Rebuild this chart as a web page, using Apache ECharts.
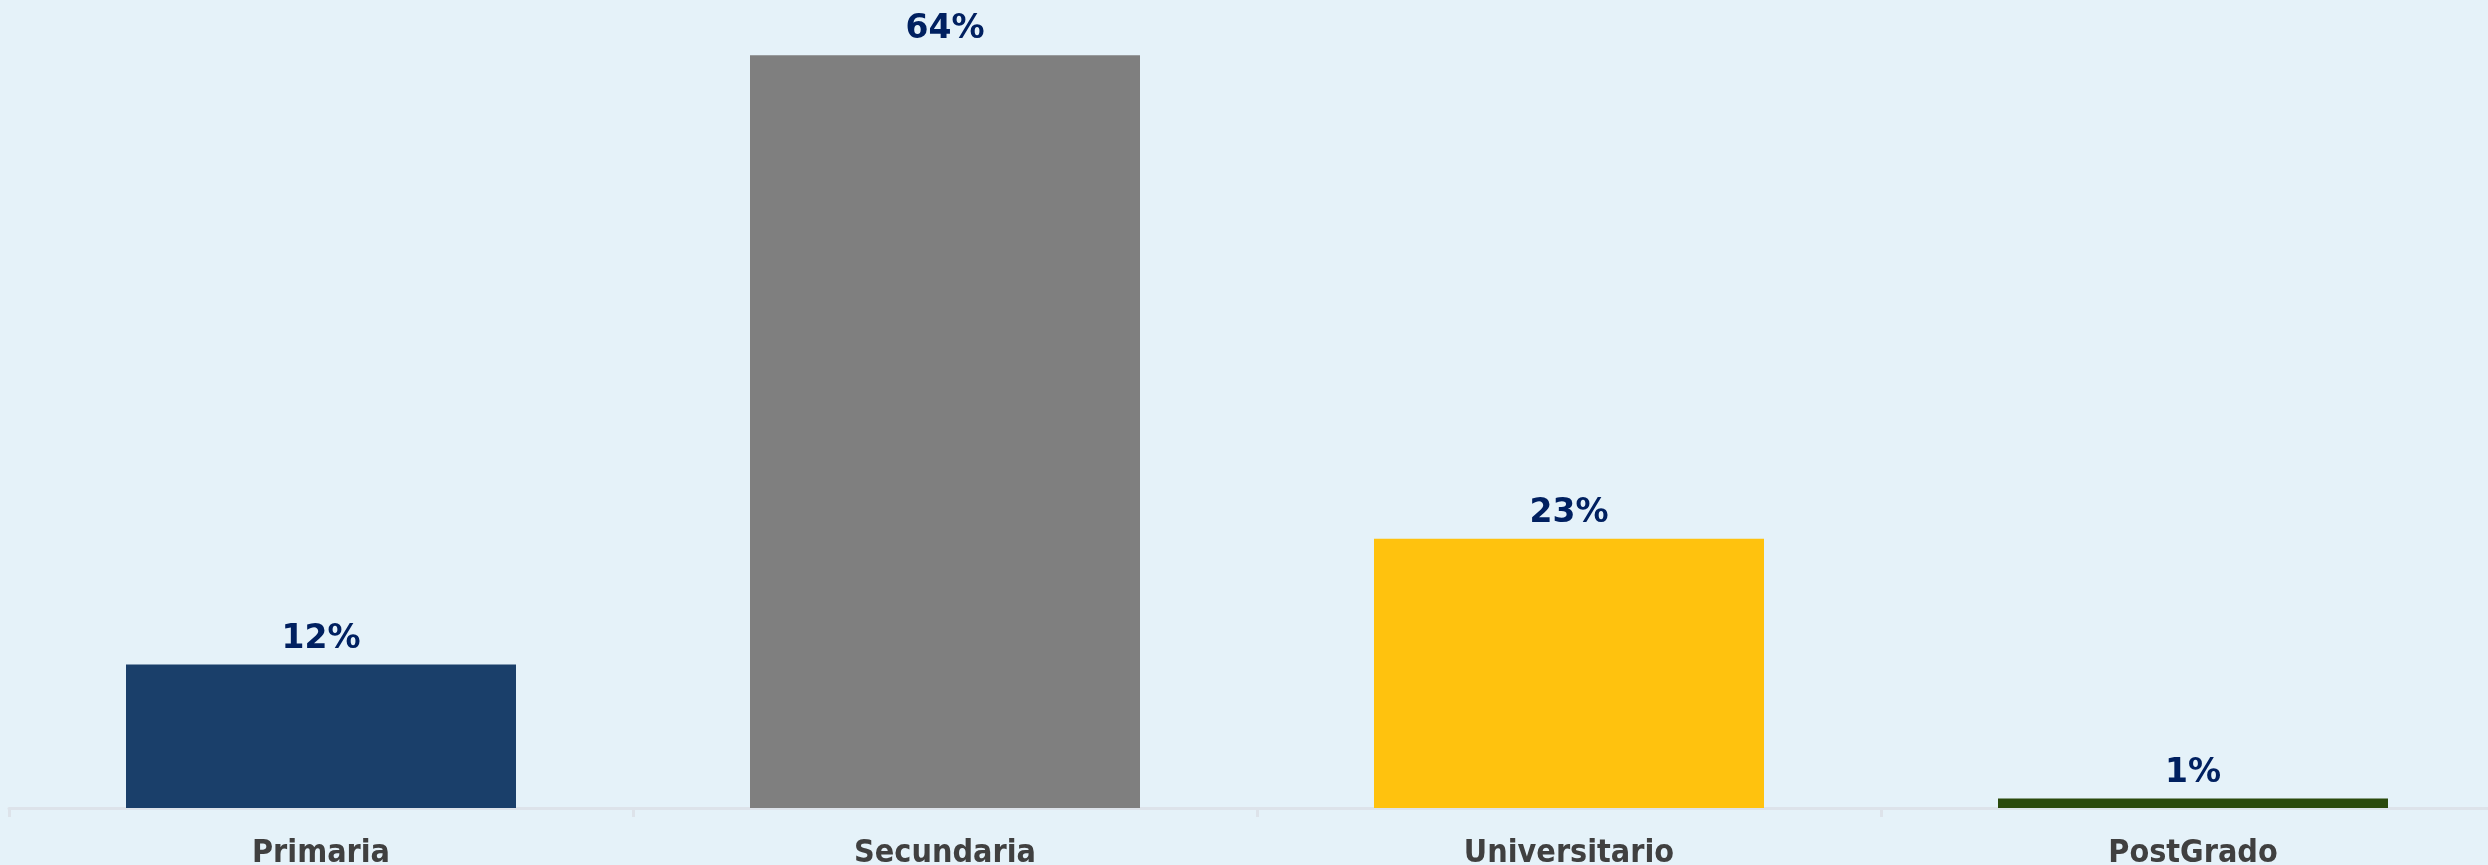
<!DOCTYPE html>
<html>
<head>
<meta charset="utf-8">
<script src="https://cdn.jsdelivr.net/npm/echarts@6/dist/echarts.min.js"></script>
<style>
html,body{margin:0;padding:0;background:#e5f2f9;}
#chart{width:2488px;height:865px;}
</style>
</head>
<body>
<div id="chart"></div>
<script>
const categories = ["Primaria", "Secundaria", "Universitario", "PostGrado"];
const values = [12.2, 64, 22.9, 0.8];
const barColors = ["#1a3f6a", "#7f7f7f", "#ffc20e", "#2b4a0d"];

const chart = echarts.init(document.getElementById('chart'), null, {renderer: 'canvas'});
chart.setOption({
  backgroundColor: '#e5f2f9',
  animation: false,
  grid: {left: 9, width: 2496, top: 20, bottom: 57, containLabel: false, outerBoundsMode: 'none'},
  xAxis: {
    type: 'category',
    data: categories,
    axisLine: {show: true, lineStyle: {color: '#dde3ea', width: 3}},
    axisTick: {show: true, length: 9, lineStyle: {color: '#dde3ea', width: 3}},
    axisLabel: {
      color: '#404040',
      fontFamily: '"DejaVu Sans Condensed", "DejaVu Sans", sans-serif',
      fontWeight: 'bold',
      fontSize: 32,
      margin: 30
    }
  },
  yAxis: {
    type: 'value',
    min: 0,
    max: 67,
    show: false,
    splitLine: {show: false}
  },
  series: [{
    type: 'bar',
    barWidth: '62.5%',
    data: values.map((v, i) => ({value: v, itemStyle: {color: barColors[i]}})),
    label: {
      show: true,
      position: 'top',
      distance: 9,
      formatter: p => Math.round(p.value) + '%',
      color: '#002060',
      fontFamily: '"DejaVu Sans", sans-serif',
      fontWeight: 'bold',
      fontSize: 33
    }
  }]
});
</script>
</body>
</html>
